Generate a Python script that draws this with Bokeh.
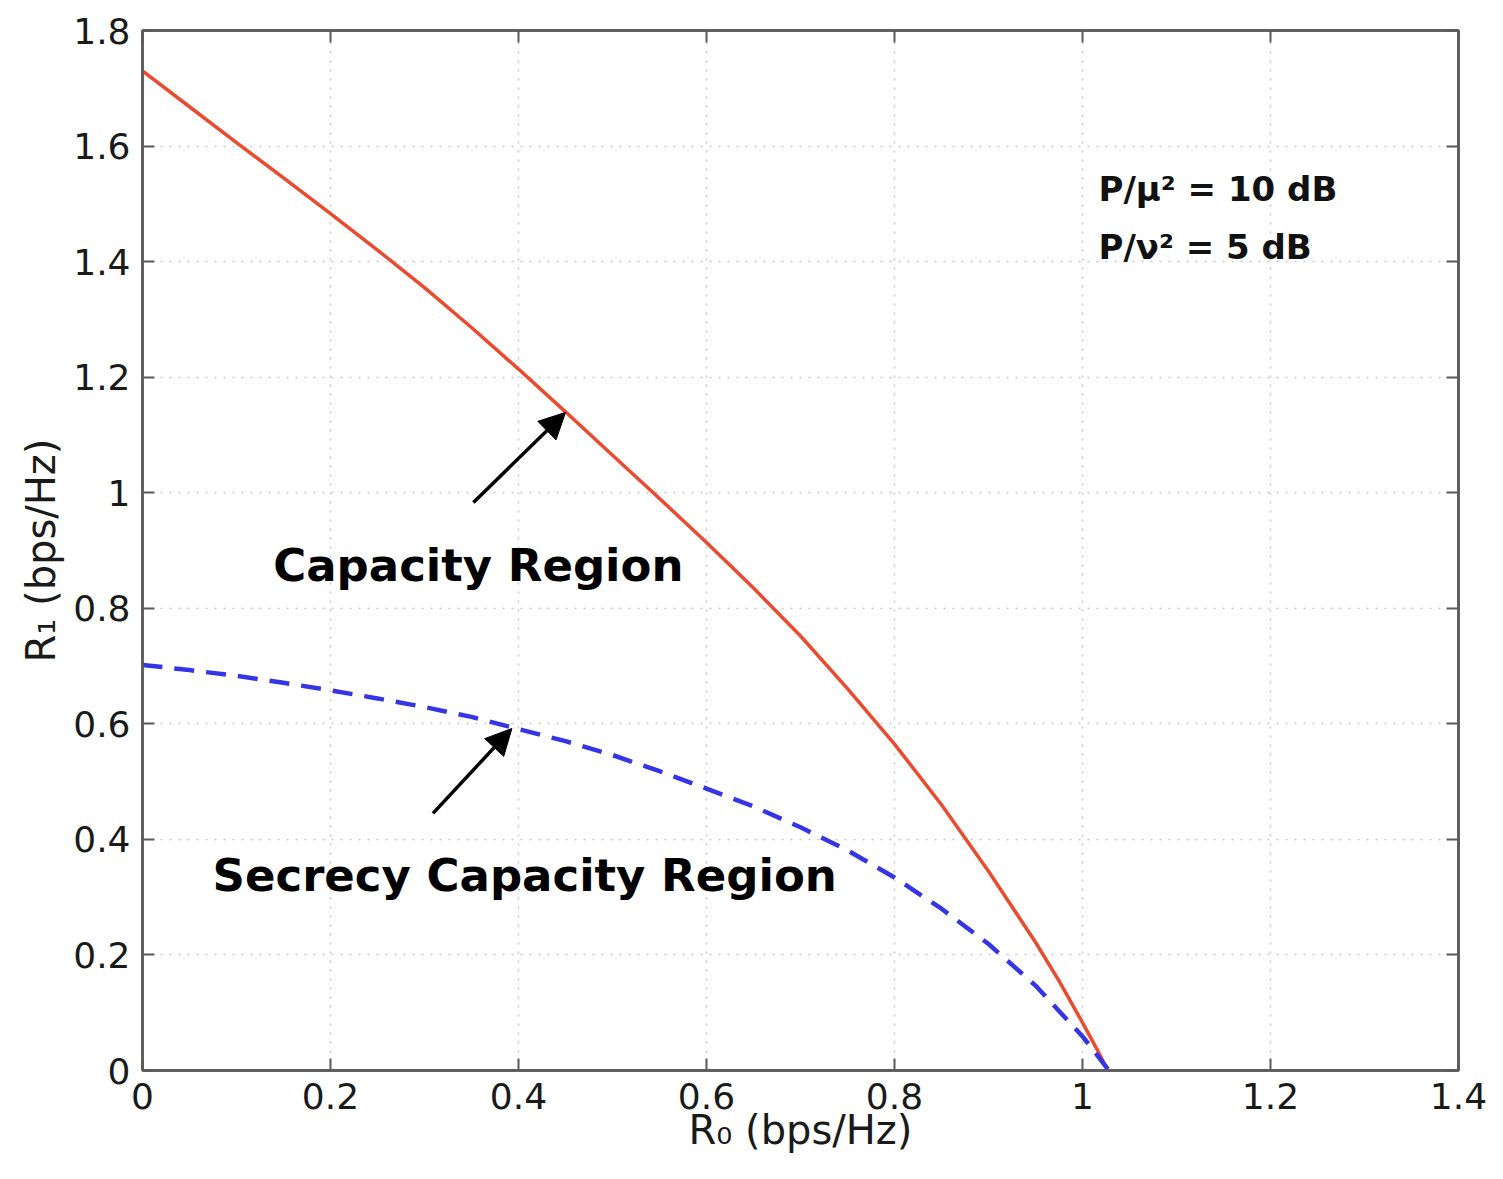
from bokeh.plotting import figure
from bokeh.models import Range1d, FixedTicker, LinearAxis, Arrow, NormalHead, ColumnDataSource
from bokeh.core.properties import value
from bokeh.embed import file_html
from bokeh.resources import INLINE

# ---- data ----
r0_capacity = [0.0, 0.05, 0.1, 0.15, 0.2, 0.25, 0.3, 0.35, 0.4, 0.45, 0.5, 0.55, 0.6, 0.65,
               0.7, 0.75, 0.8, 0.85, 0.9, 0.95, 0.975, 1.0, 1.015, 1.027]
r1_capacity = [1.730, 1.668, 1.606, 1.545, 1.483, 1.420, 1.355, 1.286, 1.214, 1.140, 1.065, 0.990,
               0.914, 0.835, 0.752, 0.661, 0.565, 0.460, 0.345, 0.222, 0.155, 0.083, 0.038, 0.0]

r0_secrecy = [0.0, 0.05, 0.1, 0.15, 0.2, 0.25, 0.3, 0.35, 0.4, 0.45, 0.5, 0.55, 0.6, 0.65,
              0.7, 0.75, 0.8, 0.85, 0.9, 0.95, 0.975, 1.0, 1.015, 1.028]
r1_secrecy = [0.702, 0.693, 0.683, 0.671, 0.658, 0.644, 0.629, 0.612, 0.591, 0.570, 0.546, 0.518,
              0.488, 0.457, 0.421, 0.381, 0.334, 0.280, 0.219, 0.147, 0.103, 0.059, 0.028, 0.0]

x_ticks = [0, 0.2, 0.4, 0.6, 0.8, 1.0, 1.2, 1.4]
x_tick_labels = ["0", "0.2", "0.4", "0.6", "0.8", "1", "1.2", "1.4"]
y_ticks = [0, 0.2, 0.4, 0.6, 0.8, 1.0, 1.2, 1.4, 1.6, 1.8]
y_tick_labels = ["0", "0.2", "0.4", "0.6", "0.8", "1", "1.2", "1.4", "1.6", "1.8"]

label_texts = ["Capacity Region", "Secrecy Capacity Region"]
label_x = [0.139, 0.0745]
label_y = [0.874, 0.337]

param_texts = ["P/μ² = 10 dB", "P/ν² = 5 dB"]
param_x = [1.017, 1.017]
param_y = [1.526, 1.426]

# arrows: (x_start, y_start, x_end, y_end)
arrow_capacity = (0.352, 0.983, 0.450, 1.139)
arrow_secrecy = (0.309, 0.445, 0.393, 0.592)

FONT = "DejaVu Sans"
AXIS_COLOR = "#5a5a5a"

p = figure(width=1495, height=1165, output_backend="svg", toolbar_location=None,
           x_range=Range1d(0, 1.4), y_range=Range1d(0, 1.8),
           min_border_left=142, min_border_right=37, min_border_top=30, min_border_bottom=95,
           x_axis_label="R₀ (bps/Hz)", y_axis_label="R₁ (bps/Hz)")
p.background_fill_color = "white"
p.border_fill_color = "white"
p.outline_line_color = AXIS_COLOR
p.outline_line_width = 2.5

xt = FixedTicker(ticks=x_ticks)
yt = FixedTicker(ticks=y_ticks)

def style_axis(ax, ticker, show_labels):
    ax.ticker = ticker
    ax.axis_line_color = AXIS_COLOR
    ax.axis_line_width = 2.5
    ax.major_tick_line_color = AXIS_COLOR
    ax.major_tick_line_width = 2
    ax.major_tick_in = 12
    ax.major_tick_out = 0
    ax.minor_tick_line_color = None
    if show_labels:
        ax.major_label_text_font = FONT
        ax.major_label_text_font_size = "36px"
        ax.major_label_text_color = "#1a1a1a"
        ax.major_label_standoff = 12
        ax.axis_label_text_font = FONT
        ax.axis_label_text_font_size = "40px"
        ax.axis_label_text_font_style = "normal"
        ax.axis_label_text_color = "#1a1a1a"
    else:
        ax.major_label_text_font_size = "0px"
        ax.major_label_text_color = None

xaxis = p.xaxis[0]
yaxis = p.yaxis[0]
style_axis(xaxis, xt, True)
style_axis(yaxis, yt, True)
xaxis.major_label_overrides = {t: s for t, s in zip(x_ticks, x_tick_labels)}
yaxis.major_label_overrides = {t: s for t, s in zip(y_ticks, y_tick_labels)}
xaxis.axis_label_standoff = -5
yaxis.axis_label_standoff = 6

top_axis = LinearAxis()
right_axis = LinearAxis()
style_axis(top_axis, xt, False)
style_axis(right_axis, yt, False)
p.add_layout(top_axis, "above")
p.add_layout(right_axis, "right")

p.xgrid.ticker = xt
p.ygrid.ticker = yt
p.grid.grid_line_color = "#c8c8c8"
p.grid.grid_line_dash = "2 7"
p.grid.grid_line_width = 1.5

p.line(r0_capacity, r1_capacity, line_color="#EC4A2E", line_width=3.5)
p.line(r0_secrecy, r1_secrecy, line_color="#3535E6", line_width=4.5, line_dash="20 12")

for (xs, ys, xe, ye) in (arrow_capacity, arrow_secrecy):
    p.add_layout(Arrow(end=NormalHead(size=26, fill_color="black", line_color="black", line_width=1),
                       x_start=xs, y_start=ys, x_end=xe, y_end=ye,
                       line_color="black", line_width=3.5))

lab_src = ColumnDataSource(dict(x=label_x, y=label_y, t=label_texts))
p.text(x="x", y="y", text="t", source=lab_src, text_font=value(FONT), text_font_style="bold",
       text_font_size="45px", text_color="black", text_baseline="alphabetic", text_align="left")

par_src = ColumnDataSource(dict(x=param_x, y=param_y, t=param_texts))
p.text(x="x", y="y", text="t", source=par_src, text_font=value(FONT), text_font_style="bold",
       text_font_size="34px", text_color="#111111", text_baseline="alphabetic", text_align="left")

open("out.html", "w").write(file_html(p, INLINE))
